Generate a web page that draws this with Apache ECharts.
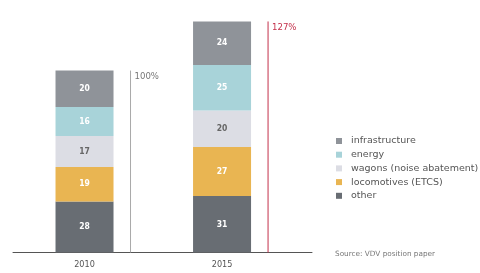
<!DOCTYPE html>
<html>
<head>
<meta charset="utf-8">
<script src="https://cdn.jsdelivr.net/npm/echarts@6/dist/echarts.min.js"></script>
<style>
html,body{margin:0;padding:0;background:#fff;}
#chart{width:480px;height:273px;}
</style>
</head>
<body>
<div id="chart"></div>
<script>
var years = [2010, 2015];
var other = [28, 31];
var locomotives = [19, 27];
var wagons = [17, 20];
var energy = [16, 25];
var infrastructure = [20, 24];
var totals = [100, 127];
var totalLabels = ['100%', '127%'];
var totalColors = ['#a9a9a9', '#c4314b'];

var seriesDef = [
	{name: 'other', data: other, color: '#686d73', label: '#fff'},
	{name: 'locomotives (ETCS)', data: locomotives, color: '#e9b552', label: '#fff'},
	{name: 'wagons (noise abatement)', data: wagons, color: '#dcdde4', label: '#666'},
	{name: 'energy', data: energy, color: '#a8d3d9', label: '#fff'},
	{name: 'infrastructure', data: infrastructure, color: '#8f9399', label: '#fff'}
];

var myChart = echarts.init(document.getElementById('chart'), null, {renderer: 'canvas'});

var series = [];
seriesDef.forEach(function(s){
	series.push({
		name: s.name,
		type: 'bar',
		stack: 'total',
		barWidth: 58,
		encode: {x: 1, y: 0},
		itemStyle: {color: s.color},
		label: {show: true, color: s.label, fontSize: 8.5, fontWeight: 'bold', fontFamily: 'DejaVu Sans Condensed',
			formatter: function(p){ return p.value[0]; }},
		// value first so the stack runs on the height, not the year
		data: s.data.map(function(v, i){ return [v, years[i]]; })
	});
});

// total lines next to each bar
series.push({
	type: 'custom',
	silent: true,
	encode: {x: 1, y: 0},
	data: totals.map(function(v, i){ return [v, years[i], i]; }),
	renderItem: function(params, api){
		var i = api.value(2);
		var p0 = api.coord([api.value(1), 0]);
		var p1 = api.coord([api.value(1), api.value(0)]);
		var off = 46;
		return {
			type: 'group',
			children: [{
				type: 'line',
				shape: {x1: p0[0] + off, y1: p0[1], x2: p1[0] + off, y2: p1[1]},
				style: {stroke: totalColors[i], lineWidth: 1}
			}, {
				type: 'text',
				x: p1[0] + off + 4,
				y: p1[1] + 1,
				style: {text: totalLabels[i], fill: i == 0 ? '#777' : totalColors[i], fontSize: 9.5, fontFamily: 'DejaVu Sans Condensed'}
			}]
		};
	}
});

option = {
	animation: false,
	grid: {left: 13, right: 168, top: 16, bottom: 20.5},
	xAxis: {
		type: 'value',
		min: 2007.4,
		max: 2018.27,
		splitLine: {show: false},
		axisLine: {show: true, lineStyle: {color: '#555', width: 1}},
		axisTick: {show: false},
		axisLabel: {customValues: years, formatter: function(v){ return String(v); },
			color: '#555', fontSize: 9, margin: 8, fontFamily: 'DejaVu Sans Condensed'}
	},
	yAxis: {
		type: 'value',
		min: 0,
		max: 130,
		show: false
	},
	legend: {
		orient: 'vertical',
		left: 331,
		top: 131,
		itemWidth: 6,
		itemHeight: 6,
		itemGap: 3.7,
		icon: 'rect',
		data: ['infrastructure', 'energy', 'wagons (noise abatement)', 'locomotives (ETCS)', 'other'],
		textStyle: {color: '#555', fontSize: 9.5, lineHeight: 10, padding: [0, 0, 0, 4], fontFamily: 'DejaVu Sans'}
	},
	title: {
		text: 'Source: VDV position paper',
		left: 330,
		top: 246,
		textStyle: {color: '#777', fontSize: 7.3, fontWeight: 'normal', fontFamily: 'DejaVu Sans'}
	},
	series: series
};
myChart.setOption(option);
</script>
</body>
</html>
